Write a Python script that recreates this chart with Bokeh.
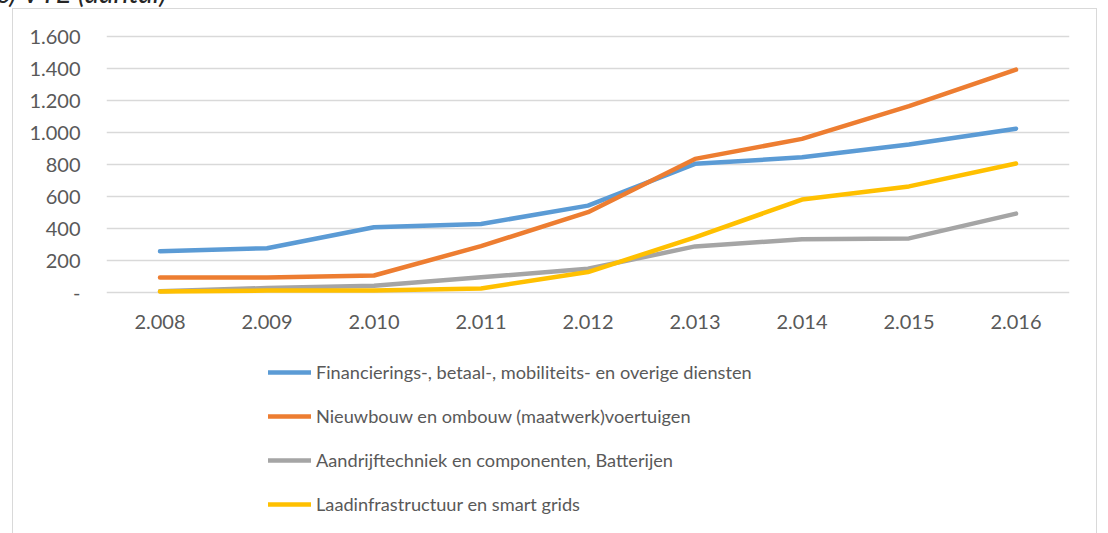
from bokeh.plotting import figure
from bokeh.models import FactorRange, Range1d, FixedTicker, Legend, LegendItem, Title
from bokeh.layouts import column
from bokeh.embed import file_html
from bokeh.resources import INLINE

title_text = "c) VTE (aantal)"
years = ["2.008", "2.009", "2.010", "2.011", "2.012", "2.013", "2.014", "2.015", "2.016"]
series_names = [
    "Financierings-, betaal-, mobiliteits- en overige diensten",
    "Nieuwbouw en ombouw (maatwerk)voertuigen",
    "Aandrijftechniek en componenten, Batterijen",
    "Laadinfrastructuur en smart grids",
]
financiering = [258, 277, 408, 428, 543, 804, 845, 925, 1024]
nieuwbouw = [94, 94, 106, 290, 502, 835, 960, 1165, 1393]
aandrijf = [8, 28, 42, 95, 148, 288, 333, 338, 493]
laadinfra = [6, 12, 12, 25, 128, 344, 581, 663, 806]
y_ticks = [0, 200, 400, 600, 800, 1000, 1200, 1400, 1600]
y_tick_labels = ["-", "200", "400", "600", "800", "1.000", "1.200", "1.400", "1.600"]
colors = ["#5B9BD5", "#ED7D31", "#A5A5A5", "#FFC000"]
all_series = [financiering, nieuwbouw, aandrijf, laadinfra]

FONT = "Lato"
TXT = "#595959"
M = 52          # canvas rows hidden above the window (title is cut off in the reference)
MAIN_H = 345    # visible height of the chart part
G = "linear-gradient(#d9d9d9,#d9d9d9)"

p = figure(
    width=1108, height=MAIN_H + M,
    x_range=FactorRange(factors=years, range_padding=0),
    y_range=Range1d(-31.25, 1631.25),
    output_backend="svg", toolbar_location=None,
    min_border_left=106, min_border_right=39, min_border_top=31 + M,
    min_border_bottom=MAIN_H - 297,
)
p.outline_line_color = None
p.background_fill_alpha = 0
p.border_fill_alpha = 0

p.xgrid.visible = False
p.ygrid.grid_line_color = "#d9d9d9"
p.ygrid.grid_line_width = 1.5

p.yaxis.ticker = FixedTicker(ticks=y_ticks)
p.yaxis.major_label_overrides = {t: l for t, l in zip(y_ticks, y_tick_labels)}
for ax in (p.xaxis[0], p.yaxis[0]):
    ax.axis_line_color = None
    ax.major_tick_line_color = None
    ax.minor_tick_line_color = None
    ax.major_tick_in = 0
    ax.major_tick_out = 0
    ax.major_label_text_font = FONT
    ax.major_label_text_font_size = "20px"
    ax.major_label_text_color = TXT
p.yaxis.major_label_standoff = 26
p.xaxis.major_label_standoff = 17

for vals, col in zip(all_series, colors):
    p.line(years, vals, line_width=4.5, line_color=col, line_cap="round", line_join="round")

p.add_layout(Title(text=title_text, align="left", offset=-110, standoff=46,
                   vertical_align="bottom", text_font=FONT, text_font_style="italic",
                   text_font_size="28.5px", text_color="#262626"), "above")

# legend panel below the chart (its series lie outside its visible range)
LEG_H = 533 - MAIN_H
pl = figure(width=1108, height=LEG_H, x_range=FactorRange(factors=years),
            y_range=Range1d(5000, 6000),
            x_axis_type=None, y_axis_type=None, output_backend="svg",
            toolbar_location=None, min_border=0)
pl.outline_line_color = None
pl.background_fill_alpha = 0
pl.border_fill_alpha = 0
pl.xgrid.visible = False
pl.ygrid.visible = False
proxies = [pl.line(years, vals, line_width=4.5, line_color=c, line_cap="round")
           for vals, c in zip(all_series, colors)]
legend = Legend(
    items=[LegendItem(label=n, renderers=[r]) for n, r in zip(series_names, proxies)],
    location=(162, 17), orientation="vertical",
    glyph_width=43, glyph_height=24, label_height=24, spacing=20, label_standoff=5,
    padding=0, margin=0, border_line_color=None, background_fill_alpha=0,
    label_text_font=FONT, label_text_font_size="18.2px", label_text_color=TXT,
)
pl.add_layout(legend)

layout = column(p, pl, spacing=0, styles={
    "margin-top": f"-{M}px",
    "background-image": f"{G}, {G}, {G}",
    "background-position": f"12px {8 + M}px, 1096px {8 + M}px, 12px {8 + M}px",
    "background-size": "1px 900px, 1px 900px, 1085px 1px",
    "background-repeat": "no-repeat",
})

open("out.html", "w").write(file_html(layout, INLINE))
